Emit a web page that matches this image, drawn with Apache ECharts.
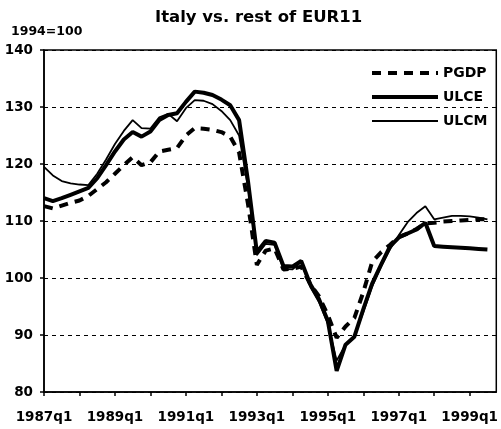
<!DOCTYPE html>
<html>
<head>
<meta charset="utf-8">
<script src="https://cdn.jsdelivr.net/npm/echarts@6/dist/echarts.min.js"></script>
<style>
  html, body { margin: 0; padding: 0; background: #fff; }
  #chart { width: 501px; height: 429px; }
</style>
</head>
<body>
<div id="chart"></div>
<script>
  // quarters 1987q1 .. 1999q4
  var quarters = [];
  for (var y = 1987; y <= 1999; y++) {
    for (var q = 1; q <= 4; q++) {
      quarters.push(y + 'q' + q);
    }
  }

  var pgdp = [
    112.6, 112.2, 112.7, 113.2, 113.6, 114.4, 115.6, 116.8, 118.3, 119.8,
    121.2, 119.8, 120.3, 122.2, 122.5, 122.8, 125.0, 126.3, 126.2, 126.0,
    125.6, 124.8, 122.0, 113.0, 102.3, 104.8, 105.2, 101.5, 101.6, 102.0,
    99.0, 96.8, 93.5, 89.5, 91.5, 93.0, 97.5, 102.8, 104.5, 105.8,
    107.2, 107.8, 108.6, 109.6, 109.7, 109.9, 110.0, 110.1, 110.2, 110.3,
    110.3
  ];
  var ulce = [
    114.0, 113.5, 114.0, 114.6, 115.2, 115.8, 117.5, 119.8, 122.2, 124.3,
    125.6, 124.8, 125.7, 127.7, 128.6, 128.9, 130.9, 132.7, 132.5, 132.1,
    131.3, 130.3, 127.7, 117.0, 104.5, 106.5, 106.2, 102.1, 102.0, 103.0,
    99.0, 96.3, 92.5, 83.7, 88.3, 89.7, 94.5, 99.0, 102.3, 105.5,
    107.1, 107.8, 108.5, 109.7, 105.6, 105.5, 105.4, 105.3, 105.2, 105.1,
    105.0
  ];
  var ulcm = [
    119.5, 118.0, 117.0, 116.6, 116.4, 116.3, 118.3, 120.8, 123.5, 125.8,
    127.7, 126.3, 126.2, 128.2, 128.8, 127.5, 129.8, 131.2, 131.1, 130.5,
    129.3, 127.7, 125.0, 116.0, 104.0, 106.0, 105.8, 101.6, 101.5, 102.8,
    98.5, 95.8, 92.0, 85.5, 88.3, 89.8, 94.0, 98.5, 102.0, 105.0,
    107.5, 109.8, 111.4, 112.6, 110.3, 110.6, 110.9, 110.9, 110.8, 110.6,
    110.3
  ];

  var fontFam = '"DejaVu Sans", sans-serif';
  var chart = echarts.init(document.getElementById('chart'));

  chart.setOption({
    animation: false,
    backgroundColor: '#fff',
    title: [{
      text: 'Italy vs. rest of EUR11',
      left: 150,
      top: 4,
      textStyle: { fontFamily: fontFam, fontSize: 16.5, fontWeight: 'bold', color: '#000' }
    }, {
      text: '1994=100',
      left: 6,
      top: 20,
      textStyle: { fontFamily: fontFam, fontSize: 12.5, fontWeight: 'bold', color: '#000' }
    }],
    legend: {
      orient: 'vertical',
      left: 365,
      top: 61,
      itemWidth: 66,
      itemHeight: 14,
      itemGap: 10,
      itemStyle: { opacity: 0 },
      textStyle: { fontFamily: fontFam, fontSize: 14, fontWeight: 'bold', color: '#000' },
      data: [
        { name: 'PGDP', lineStyle: { width: 4 } },
        { name: 'ULCE', lineStyle: { width: 4 } },
        { name: 'ULCM', lineStyle: { width: 2 } }
      ]
    },
    grid: {
      left: 44,
      right: 4,
      top: 50,
      bottom: 37,
      show: true,
      borderColor: '#000',
      borderWidth: 1.5
    },
    xAxis: {
      type: 'category',
      data: quarters,
      boundaryGap: false,
      axisLine: { lineStyle: { color: '#000', width: 1.5 } },
      axisTick: { interval: 3, length: 4, lineStyle: { color: '#000', width: 1.5 } },
      axisLabel: {
        interval: 7,
        margin: 18,
        fontFamily: fontFam,
        fontSize: 13.5,
        fontWeight: 'bold',
        color: '#000'
      },
      splitLine: { show: false }
    },
    yAxis: {
      type: 'value',
      min: 80,
      max: 140,
      interval: 10,
      axisLine: { show: true, lineStyle: { color: '#000', width: 1.5 } },
      axisTick: { show: true, length: 4, lineStyle: { color: '#000', width: 1.5 } },
      axisLabel: {
        margin: 11,
        fontFamily: fontFam,
        fontSize: 13.5,
        fontWeight: 'bold',
        color: '#000'
      },
      splitLine: { lineStyle: { color: '#000', width: 1, type: [4, 4] } }
    },
    series: [{
      name: 'PGDP',
      type: 'line',
      data: pgdp,
      symbol: 'none',
      z: 4,
      lineStyle: { color: '#000', width: 4, type: [9, 7] },
      itemStyle: { color: '#000' }
    }, {
      name: 'ULCE',
      type: 'line',
      data: ulce,
      symbol: 'none',
      z: 3,
      lineStyle: { color: '#000', width: 4 },
      itemStyle: { color: '#000' }
    }, {
      name: 'ULCM',
      type: 'line',
      data: ulcm,
      symbol: 'none',
      z: 2,
      lineStyle: { color: '#000', width: 1.8 },
      itemStyle: { color: '#000' }
    }]
  });
</script>
</body>
</html>
